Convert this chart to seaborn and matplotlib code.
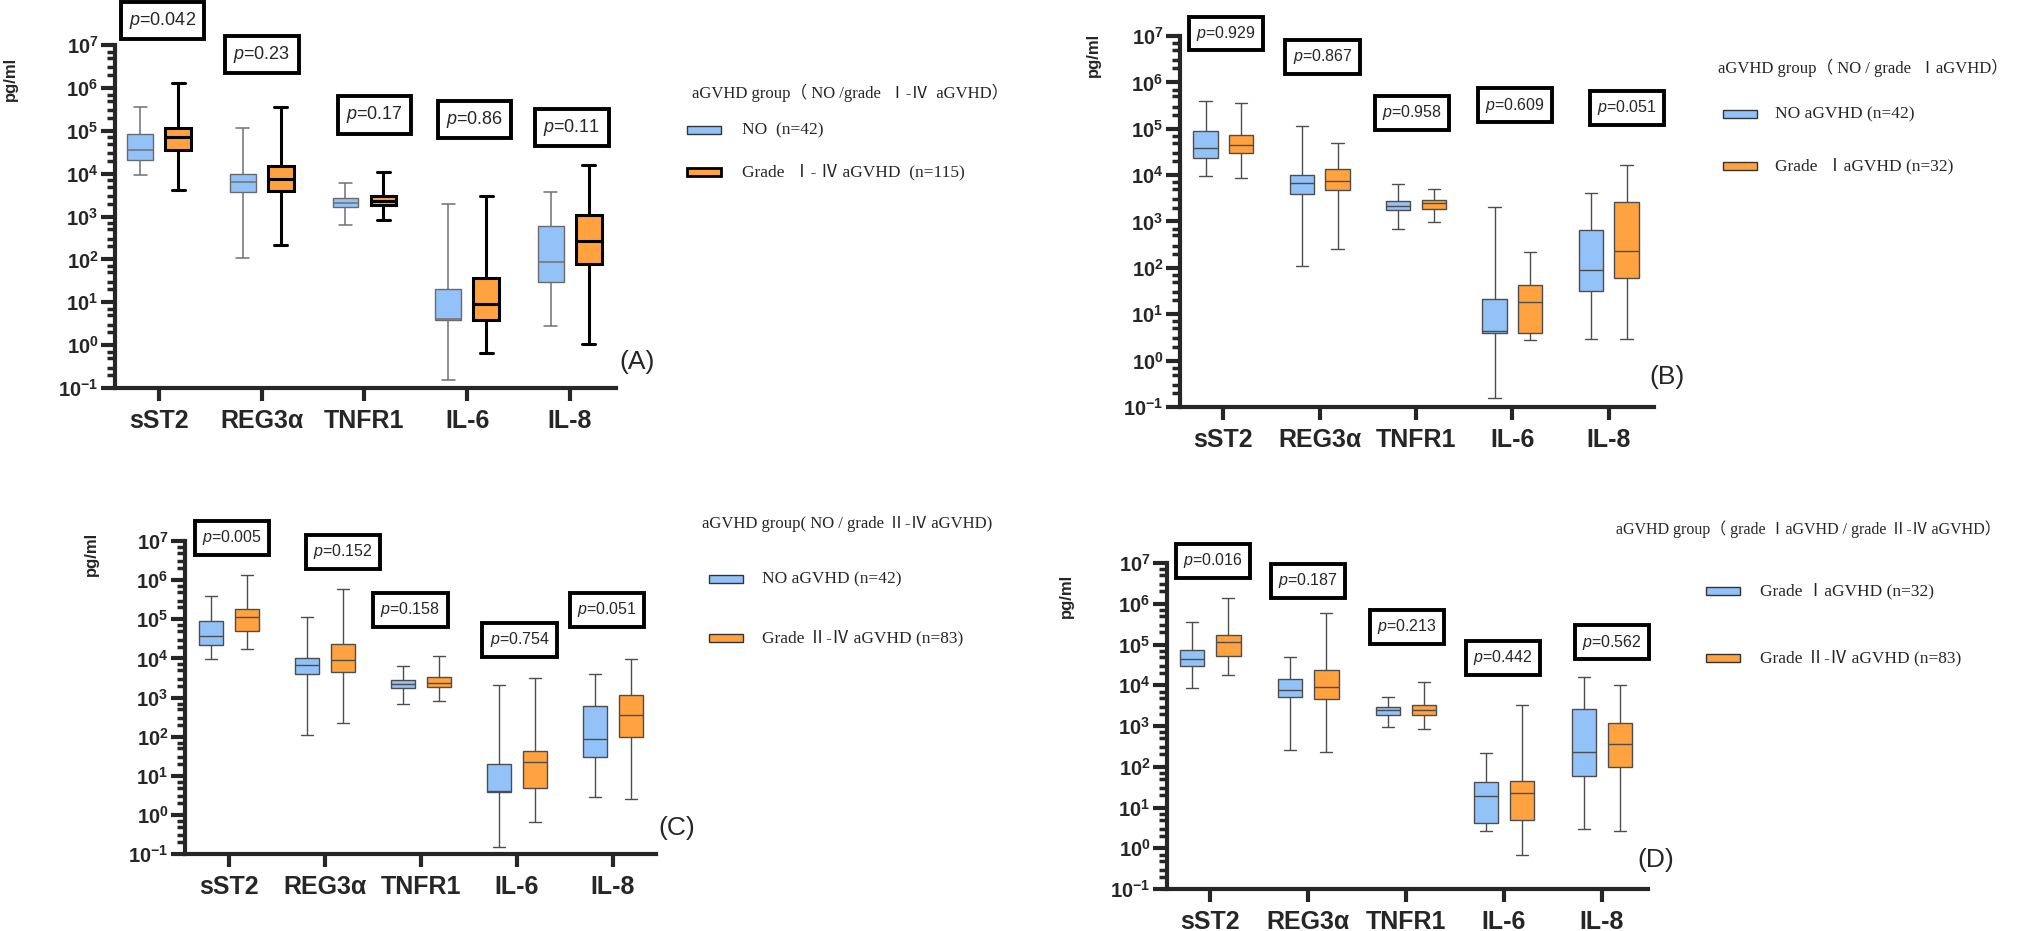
import numpy as np
import pandas as pd
import matplotlib
matplotlib.use('Agg')
import matplotlib.pyplot as plt
import matplotlib.ticker as mticker
from matplotlib.patches import Rectangle
import seaborn as sns

# ---- data ----
cytokines = ['sST2', 'REG3α', 'TNFR1', 'IL-6', 'IL-8']

# five-number summaries per cytokine: min, Q1, median, Q3, max  (log10 pg/ml)
a_no = [[3.96, 4.32, 4.55, 4.93, 5.56],
        [2.03, 3.57, 3.80, 3.99, 5.06],
        [2.81, 3.22, 3.32, 3.42, 3.77],
        [-0.82, 0.58, 0.62, 1.30, 3.29],
        [0.45, 1.47, 1.93, 2.78, 3.58]]
a_grade = [[3.61, 4.56, 4.86, 5.07, 6.11],
           [2.34, 3.59, 3.87, 4.18, 5.56],
           [2.91, 3.27, 3.37, 3.47, 4.03],
           [-0.18, 0.58, 0.97, 1.57, 3.48],
           [0.02, 1.90, 2.43, 3.04, 4.19]]

b_no = [[3.99, 4.36, 4.58, 4.96, 5.60],
        [2.05, 3.60, 3.83, 4.01, 5.07],
        [2.83, 3.24, 3.34, 3.45, 3.80],
        [-0.81, 0.60, 0.64, 1.33, 3.32],
        [0.47, 1.50, 1.95, 2.81, 3.62]]
b_grade = [[3.93, 4.47, 4.65, 4.86, 5.55],
           [2.40, 3.69, 3.88, 4.14, 4.69],
           [2.99, 3.27, 3.40, 3.47, 3.70],
           [0.44, 0.60, 1.27, 1.62, 2.35],
           [0.47, 1.78, 2.36, 3.41, 4.21]]

c_no = [[3.98, 4.35, 4.58, 4.96, 5.60],
        [2.05, 3.60, 3.83, 4.01, 5.07],
        [2.83, 3.24, 3.34, 3.45, 3.80],
        [-0.82, 0.59, 0.62, 1.31, 3.31],
        [0.46, 1.49, 1.94, 2.79, 3.60]]
c_grade = [[4.24, 4.69, 5.06, 5.25, 6.13],
           [2.36, 3.66, 3.95, 4.37, 5.77],
           [2.92, 3.26, 3.38, 3.52, 4.06],
           [-0.18, 0.69, 1.36, 1.64, 3.50],
           [0.40, 1.98, 2.56, 3.07, 3.99]]

d_grade1 = [[3.93, 4.48, 4.65, 4.87, 5.56],
            [2.40, 3.70, 3.88, 4.15, 4.70],
            [2.98, 3.27, 3.39, 3.47, 3.70],
            [0.42, 0.61, 1.27, 1.62, 2.34],
            [0.47, 1.77, 2.35, 3.41, 4.20]]
d_grade2 = [[4.25, 4.71, 5.05, 5.24, 6.13],
            [2.37, 3.66, 3.96, 4.38, 5.77],
            [2.93, 3.27, 3.39, 3.52, 4.07],
            [-0.17, 0.69, 1.36, 1.64, 3.51],
            [0.42, 1.99, 2.56, 3.07, 4.00]]

a_pvals = ['0.042', '0.23', '0.17', '0.86', '0.11']
b_pvals = ['0.929', '0.867', '0.958', '0.609', '0.051']
c_pvals = ['0.005', '0.152', '0.158', '0.754', '0.051']
d_pvals = ['0.016', '0.187', '0.213', '0.442', '0.562']

a_groups = ['NO  (n=42)', 'Grade  Ⅰ- Ⅳ aGVHD  (n=115)']
b_groups = ['NO aGVHD (n=42)', 'Grade  ⅠaGVHD (n=32)']
c_groups = ['NO aGVHD (n=42)', 'Grade Ⅱ-Ⅳ aGVHD (n=83)']
d_groups = ['Grade ⅠaGVHD (n=32)', 'Grade Ⅱ-Ⅳ aGVHD (n=83)']

a_title = 'aGVHD group（ NO /grade  Ⅰ-Ⅳ  aGVHD）'
b_title = 'aGVHD group（ NO / grade  ⅠaGVHD）'
c_title = 'aGVHD group( NO / grade Ⅱ-Ⅳ aGVHD)'
d_title = 'aGVHD group（ grade ⅠaGVHD / grade Ⅱ-Ⅳ aGVHD）'

# ---- style ----
sns.set_style('ticks')
plt.rcParams['font.family'] = ['Liberation Sans', 'Noto Sans CJK SC']
plt.rcParams['mathtext.fontset'] = 'custom'
plt.rcParams['mathtext.rm'] = 'Liberation Sans'
plt.rcParams['mathtext.it'] = 'Liberation Sans:italic'
plt.rcParams['mathtext.bf'] = 'Liberation Sans:bold'

blue = '#92C2F7'
orange = '#FFA23F'
serif = ['Liberation Serif', 'Noto Sans CJK SC']

W, H = 2027, 931
fig = plt.figure(figsize=(W / 100, H / 100), dpi=100)


def fx(x):
    return x / W


def fy(y):
    return 1 - y / H


def long_table(groups, summaries):
    rows = []
    for g, summ in zip(groups, summaries):
        for cyt, five in zip(cytokines, summ):
            for v in five:
                rows.append((cyt, g, 10 ** v))
    return pd.DataFrame(rows, columns=['cytokine', 'group', 'value'])


def panel(box, xlim, groups, summaries, pvals, p_pos, p_size, heavy_second,
          letter, letter_xy, ylab_xy, title, title_xy, title_size,
          leg_x, leg_rows, leg_labx):
    left, right, top, bottom = box
    ax = fig.add_axes([fx(left), fy(bottom), (right - left) / W, (bottom - top) / H])
    df = long_table(groups, summaries)
    sns.boxplot(data=df, x='cytokine', y='value', hue='group', order=cytokines,
                hue_order=groups, palette=[blue, orange], saturation=1,
                whis=(0, 100), width=0.74, gap=0.32, linecolor='#4d4d4d',
                linewidth=1.0, log_scale=True, legend=False, ax=ax)

    # panel A draws the grade group with heavy black outlines
    if heavy_second:
        for p in ax.patches:
            xc = p.get_path().vertices[:, 0].mean()
            if xc - round(xc) > 0:
                p.set_edgecolor('black')
                p.set_linewidth(2.2)
            else:
                p.set_edgecolor('#6a6a6a')
        for ln in ax.lines:
            xd = np.asarray(ln.get_xdata(), dtype=float)
            if xd.size == 0:
                continue
            xc = xd.mean()
            if xc - round(xc) > 0:
                ln.set_color('black')
                ln.set_linewidth(2.2)
            else:
                ln.set_color('#707070')
                ln.set_linewidth(1.1)

    ax.set_ylim(0.1, 1e7)
    ax.set_xlim(*xlim)
    ax.yaxis.set_major_locator(mticker.FixedLocator([10.0 ** k for k in range(-1, 8)]))
    ax.yaxis.set_major_formatter(mticker.FixedFormatter(
        [r'$\mathbf{10^{%d}}$' % k for k in range(-1, 8)]))
    ax.yaxis.set_minor_locator(mticker.LogLocator(base=10, subs=(2, 3, 5, 7), numticks=50))
    ax.yaxis.set_minor_formatter(mticker.NullFormatter())
    ax.tick_params(axis='y', which='major', length=10, width=3, pad=2, labelsize=14.5)
    ax.tick_params(axis='y', which='minor', length=6, width=2.5)
    ax.tick_params(axis='x', which='major', length=9, width=3, pad=6, labelsize=18)
    for lab in ax.get_xticklabels():
        lab.set_fontweight('bold')
    for s in ['left', 'bottom']:
        ax.spines[s].set_linewidth(3)
    sns.despine(ax=ax)
    ax.set_xlabel('')
    ax.set_ylabel('pg/ml', fontsize=12, fontweight='bold')
    ax.yaxis.set_label_coords(*ylab_xy)

    for pv, (px, py) in zip(pvals, p_pos):
        ax.text(px, 10 ** py, r'$p$=' + pv, ha='center', va='center', fontsize=p_size,
                clip_on=False,
                bbox=dict(boxstyle='square,pad=0.45', fc='white', ec='black', lw=2.8))

    fig.text(fx(letter_xy[0]), fy(letter_xy[1]), letter, fontsize=19,
             ha='center', va='center')

    # legend
    fig.text(fx(title_xy[0]), fy(title_xy[1]), title, fontsize=title_size, family=serif,
             ha='left', va='center')
    for i, (g, ry) in enumerate(zip(groups, leg_rows)):
        heavy = heavy_second and i == 1
        fig.add_artist(Rectangle((fx(leg_x), fy(ry + 4)), 34 / W, 8 / H,
                                 transform=fig.transFigure,
                                 facecolor=[blue, orange][i],
                                 edgecolor='black' if heavy else '#333333',
                                 lw=2.0 if heavy else 1.0))
        fig.text(fx(leg_labx), fy(ry), g, fontsize=12.5, family=serif,
                 ha='left', va='center')
    return ax


panel((115, 616, 45, 388), (-0.43, 4.45), a_groups, [a_no, a_grade], a_pvals,
      [(0.03, 7.58), (1.0, 6.77), (2.10, 5.37), (3.07, 5.27), (4.02, 5.07)], 13, True,
      '(A)', (637, 362), (-0.194, 0.90), a_title, (692, 93), 12, 687, (130, 172), 742)

panel((1180, 1654, 36, 407), (-0.45, 4.47), b_groups, [b_no, b_grade], b_pvals,
      [(0.03, 7.06), (1.03, 6.55), (1.96, 5.34), (3.03, 5.51), (4.19, 5.45)], 11.5, False,
      '(B)', (1667, 377), (-0.167, 0.95), b_title, (1718, 68), 12, 1723, (114, 166), 1775)

panel((185, 656, 541, 854), (-0.46, 4.45), c_groups, [c_no, c_grade], c_pvals,
      [(0.03, 7.08), (1.19, 6.72), (1.89, 5.24), (3.03, 4.47), (3.94, 5.24)], 11.5, False,
      '(C)', (677, 828), (-0.183, 0.96), c_title, (702, 524), 12, 709, (579, 638), 762)

panel((1167, 1648, 563, 889), (-0.44, 4.47), d_groups, [d_grade1, d_grade2], d_pvals,
      [(0.03, 7.05), (1.0, 6.56), (2.01, 5.43), (2.99, 4.67), (4.10, 5.06)], 11.5, False,
      '(D)', (1656, 860), (-0.193, 0.90), d_title, (1616, 529), 11.5, 1706, (591, 658), 1760)

fig.savefig('out.png', dpi=100)
